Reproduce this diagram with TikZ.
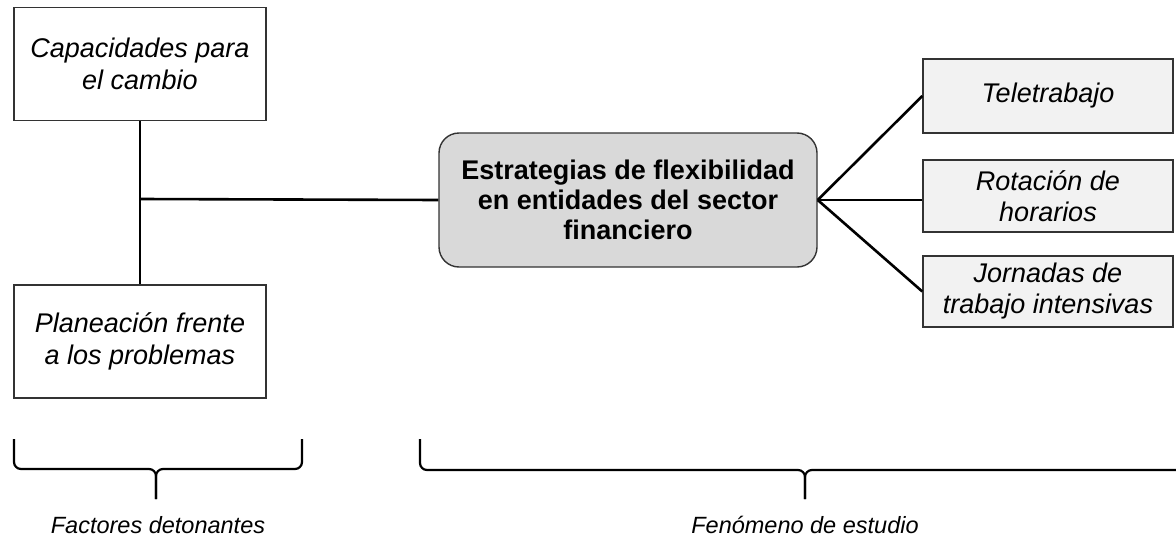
\documentclass[tikz,border=0pt]{standalone}
\usepackage{fontspec}
\setmainfont{Liberation Sans}
\definecolor{lightbox}{HTML}{F2F2F2}
\definecolor{centerfill}{HTML}{D9D9D9}
\definecolor{edge}{HTML}{333333}
\begin{document}
\begin{tikzpicture}[x=1pt,y=-1pt,
  leftbox/.style={draw=edge,line width=1.4pt,fill=white,minimum width=252pt,minimum height=113pt,inner sep=0pt,align=center,font=\fontsize{27}{32}\selectfont\itshape},
  rightbox/.style={draw=edge,line width=1.4pt,fill=lightbox,minimum width=250pt,inner sep=0pt,align=center,font=\fontsize{27}{31}\selectfont\itshape},
  centerbox/.style={draw=edge,line width=1.4pt,fill=centerfill,rounded corners=20pt,minimum width=378pt,minimum height=134pt,inner sep=0pt,align=center,font=\fontsize{27}{30}\selectfont\bfseries},
  conn/.style={line width=2.6pt,black},
  bracestyle/.style={line width=2.2pt,black,rounded corners=7pt},
  lbl/.style={font=\fontsize{23.5}{27}\selectfont\itshape,inner sep=0pt}
]
\useasboundingbox (0,0) rectangle (1176,541);
\fill[white] (0,0) rectangle (1176,541);

\node[leftbox] (cap) at (140,64) {Capacidades para\\el cambio};
\node[leftbox] (plan) at (140,341.5) {Planeación frente\\a los problemas};
\node[centerbox] (cen) at (628,200) {Estrategias de flexibilidad\\en entidades del sector\\financiero};
\node[rightbox,minimum height=74pt] (tele) at (1048,96) {Teletrabajo};
\node[rightbox,minimum height=72pt] (rot) at (1048,196) {Rotación de\\horarios};
\node[rightbox,minimum height=71pt] (jor) at (1048,291.5) {Jornadas de\\trabajo intensivas};

\coordinate (junc) at (140,199);
\draw[conn] (cap.south) -- (plan.north);
\draw[conn] (junc) -- (cen.west);
\draw[conn] (cen.east) -- (tele.west);
\draw[conn] (cen.east) -- (cen.east -| rot.west);
\draw[conn] (cen.east) -- (jor.west);

% braces
\draw[bracestyle] (14,439) -- (14,469) -- (156,469) -- (156,499);
\draw[bracestyle] (302,439) -- (302,469) -- (156,469) -- (156,499);
\draw[bracestyle] (420,439) -- (420,470) -- (805,470) -- (805,499);
\draw[bracestyle] (1190,470) -- (805,470) -- (805,499);

\node[lbl] (fact) at (158,525) {Factores detonantes};
\node[lbl] (fen) at (805,525) {Fenómeno de estudio};
\end{tikzpicture}
\end{document}
